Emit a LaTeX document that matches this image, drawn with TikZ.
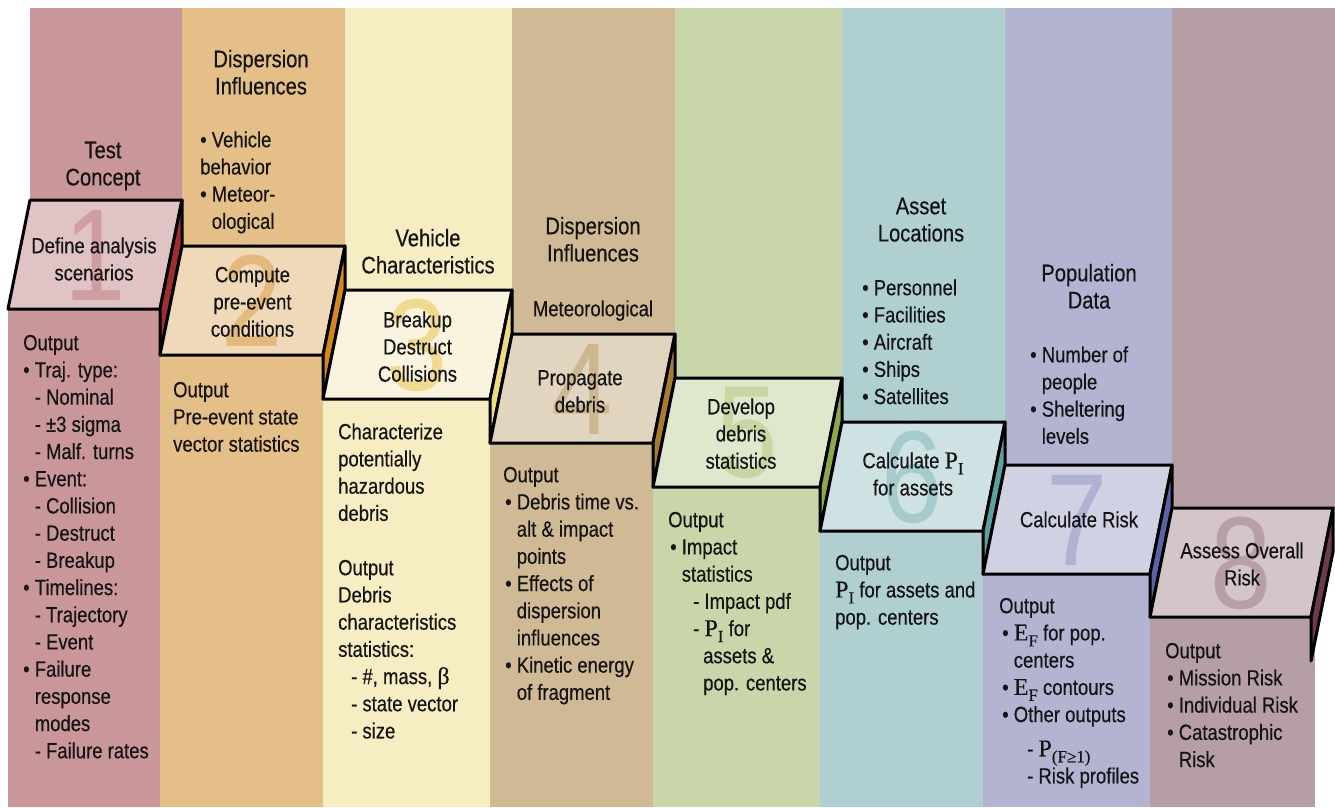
\documentclass[tikz,border=0pt]{standalone}
\usepackage{fontspec}
\setmainfont{Liberation Sans}[FakeStretch=0.84,FakeBold=0.4]
\newfontfamily\serifrm{Liberation Serif}[FakeBold=0.3]
\newfontfamily\digitfont{Liberation Sans}[FakeStretch=0.84]
\definecolor{bgA}{HTML}{C9979A}\definecolor{faceA}{HTML}{E0C3C5}\definecolor{digA}{HTML}{CF9EA1}\definecolor{sideA}{HTML}{9B2F33}
\definecolor{bgB}{HTML}{E5BF88}\definecolor{faceB}{HTML}{F0D9B8}\definecolor{digB}{HTML}{E3B97C}\definecolor{sideB}{HTML}{D5861C}
\definecolor{bgC}{HTML}{F6EDC3}\definecolor{faceC}{HTML}{FAF4DE}\definecolor{digC}{HTML}{F0DA8F}\definecolor{sideC}{HTML}{EEDC82}
\definecolor{bgD}{HTML}{D0B995}\definecolor{faceD}{HTML}{E2D5BF}\definecolor{digD}{HTML}{CDB790}\definecolor{sideD}{HTML}{A87B2D}
\definecolor{bgE}{HTML}{C9D6A9}\definecolor{faceE}{HTML}{DFE7CC}\definecolor{digE}{HTML}{C8D6A4}\definecolor{sideE}{HTML}{8BAA47}
\definecolor{bgF}{HTML}{B0CFD1}\definecolor{faceF}{HTML}{CFE2E3}\definecolor{digF}{HTML}{A6CBCD}\definecolor{sideF}{HTML}{5DA0A2}
\definecolor{bgG}{HTML}{B3B4D2}\definecolor{faceG}{HTML}{D0D1E3}\definecolor{digG}{HTML}{B0B2D3}\definecolor{sideG}{HTML}{5A63A5}
\definecolor{bgH}{HTML}{B59FA4}\definecolor{faceH}{HTML}{D4C5C9}\definecolor{digH}{HTML}{B6A0A6}\definecolor{sideH}{HTML}{6C3A48}
\definecolor{ink}{HTML}{141414}
\newcommand\fs{\fontsize{22}{27.2}\selectfont}
\newcommand\hfs{\fontsize{24}{27.2}\selectfont}
\newcommand\ind{\hphantom{• }}
\newcommand\sub[2]{{\serifrm\fontsize{24}{27.2}\selectfont #1\raisebox{-6pt}[0pt][0pt]{\fontsize{17}{17}\selectfont #2}}}
\newcommand\betasym{{\serifrm\fontsize{24}{27.2}\selectfont β}}
% background strips of one stage: x-left, x-right, y of box top, colour letter
\newcommand\stagebg[4]{%
  \fill[bg#4] (#1,8) rectangle (#2,#3+10);
  \fill[bg#4] (#1-22,#3+100) rectangle (#2-22,807);}
% slab of one stage: x-left, x-right, y top, y top of next, colour letter, digit
\newcommand\stagebox[6]{%
  \filldraw[slab,fill=face#5] (#1,#3) -- (#2,#3) -- (#2-22,#3+109) -- (#1-22,#3+109) -- cycle;
  \node[digit,text=dig#5] (d#6) at ({(#1+#2)/2-11},#3+55) {#6};
  \filldraw[slab,fill=side#5] (#2,#3) -- (#2,#4) -- (#2-22,#4+109) -- (#2-22,#3+109) -- cycle;}
\begin{document}
\begin{tikzpicture}[x=1pt,y=-1pt,
  slab/.style={draw=black,line width=3pt,line join=round},
  digit/.style={inner sep=0pt,font=\digitfont\fontsize{131}{131}\selectfont},
  txt/.style={inner sep=0pt,align=left,anchor=north west,font=\fs,text=ink},
  ctr/.style={inner sep=0pt,align=center,anchor=north,font=\fs,text=ink},
  head/.style={ctr,font=\hfs}]
\useasboundingbox (0,0) rectangle (1335,807);
\fill[white] (0,0) rectangle (1335,807);
% backgrounds
\stagebg{30}{182}{200}{A}
\stagebg{182}{345}{246}{B}
\stagebg{345}{512}{290}{C}
\stagebg{512}{675}{334}{D}
\stagebg{675}{842}{378}{E}
\stagebg{842}{1005}{422}{F}
\stagebg{1005}{1172}{465}{G}
\stagebg{1172}{1333}{508}{H}
\fill[bgH] (1330,8) rectangle (1335,508);
\fill[bgH] (1300,600) rectangle (1315,807);
% slabs
\stagebox{30}{182}{200}{246}{A}{1}
\stagebox{182}{345}{246}{290}{B}{2}
\stagebox{345}{512}{290}{334}{C}{3}
\stagebox{512}{675}{334}{378}{D}{4}
\stagebox{675}{842}{378}{422}{E}{5}
\stagebox{842}{1005}{422}{465}{F}{6}
\stagebox{1005}{1172}{465}{508}{G}{7}
\stagebox{1172}{1333}{508}{552}{H}{8}
% headings
\node[head] (h1) at (103,139) {\strut Test\\Concept};
\node[head] (h2) at (261,48) {\strut Dispersion\\Influences};
\node[head] (h3) at (428,227) {\strut Vehicle\\Characteristics};
\node[head] (h4) at (593,215) {\strut Dispersion\\Influences};
\node[ctr] (h4b) at (593,297) {\strut Meteorological};
\node[head] (h6) at (921,195) {\strut Asset\\Locations};
\node[head] (h7) at (1089,262) {\strut Population\\Data};
% box texts
\node[ctr] (b1) at (94,234) {\strut Define analysis\\scenarios};
\node[ctr] (b2) at (252.5,263) {\strut Compute\\pre-event\\conditions};
\node[ctr] (b3) at (417.5,308) {\strut Breakup\\Destruct\\Collisions};
\node[ctr] (b4) at (580,366) {\strut Propagate\\debris};
\node[ctr] (b5) at (741,395) {\strut Develop\\debris\\statistics};
\node[ctr] (b6) at (913,449) {\strut Calculate \sub{P}{I}\\for assets};
\node[ctr] (b7) at (1079,508) {\strut Calculate Risk};
\node[ctr] (b8) at (1242,539) {\strut Assess Overall\\Risk};
% upper lists
\node[txt] (u2) at (200,128) {\strut • Vehicle\\behavior\\• Meteor-\\\ind ological};
\node[txt] (u6) at (862,276) {\strut • Personnel\\• Facilities\\• Aircraft\\• Ships\\• Satellites};
\node[txt] (u7) at (1030,343) {\strut • Number of\\\ind people\\• Sheltering\\\ind levels};
% lower texts
\node[txt] (o1) at (23,331) {\strut Output\\• Traj. type:\\\ind - Nominal\\\ind - ±3 sigma\\\ind - Malf. turns\\• Event:\\\ind - Collision\\\ind - Destruct\\\ind - Breakup\\• Timelines:\\\ind - Trajectory\\\ind - Event\\• Failure\\\ind response\\\ind modes\\\ind - Failure rates};
\node[txt] (o2) at (173,378) {\strut Output\\Pre-event state\\vector statistics};
\node[txt] (o3) at (338,420) {\strut Characterize\\potentially\\hazardous\\debris\\[27.2pt]Output\\Debris\\characteristics\\statistics:\\\hspace*{13pt}- \#, mass, \betasym\\\hspace*{13pt}- state vector\\\hspace*{13pt}- size};
\node[txt] (o4) at (503,463) {\strut Output\\\hspace*{2pt}• Debris time vs.\\\hspace*{2pt}\ind alt \& impact\\\hspace*{2pt}\ind points\\\hspace*{2pt}• Effects of\\\hspace*{2pt}\ind dispersion\\\hspace*{2pt}\ind influences\\\hspace*{2pt}• Kinetic energy\\\hspace*{2pt}\ind of fragment};
\node[txt] (o5) at (668,508) {\strut Output\\\hspace*{2pt}• Impact\\\hspace*{2pt}\ind statistics\\\hspace*{25pt}- Impact pdf\\\hspace*{25pt}- \sub{P}{I} for\\\hspace*{35pt}assets \&\\\hspace*{35pt}pop. centers};
\node[txt] (o6) at (835,551) {\strut Output\\\sub{P}{I} for assets and\\pop. centers};
\node[txt] (o7) at (999,594) {\strut Output\\\hspace*{3pt}• \sub{E}{F} for pop.\\\hspace*{3pt}\ind centers\\\hspace*{3pt}• \sub{E}{F} contours\\\hspace*{3pt}• Other outputs\\[7pt]\hspace*{28pt}- \sub{P}{(F≥1)}\\\hspace*{28pt}- Risk profiles};
\node[txt] (o8) at (1165,639) {\strut Output\\\hspace*{2pt}• Mission Risk\\\hspace*{2pt}• Individual Risk\\\hspace*{2pt}• Catastrophic\\\hspace*{2pt}\ind Risk};
\end{tikzpicture}
\end{document}
